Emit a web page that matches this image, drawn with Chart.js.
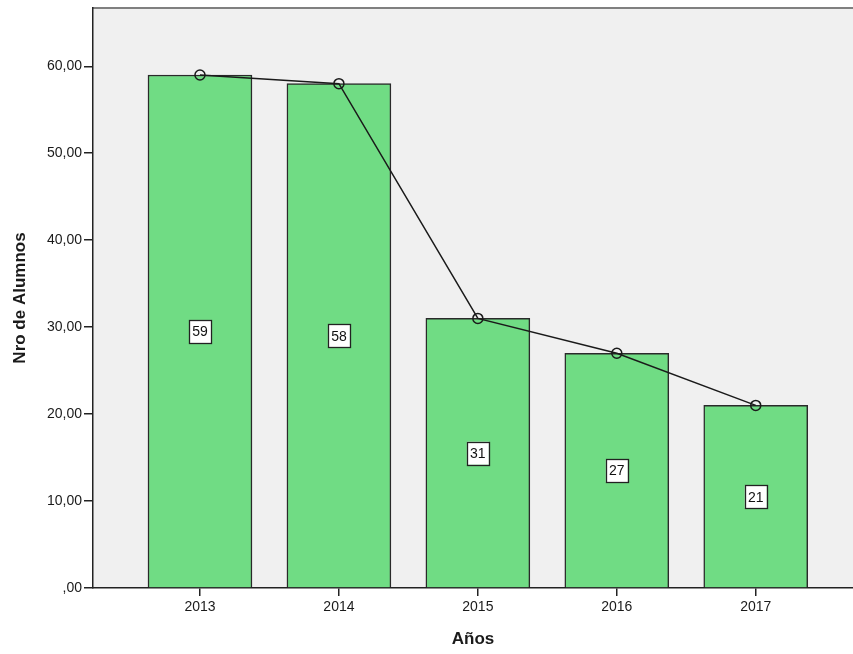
<!DOCTYPE html>
<html>
<head>
<meta charset="utf-8">
<script src="https://cdn.jsdelivr.net/npm/chart.js@4"></script>
<style>
  html, body { margin: 0; padding: 0; background: #fff; }
  #wrap { width: 853px; height: 654px; }
</style>
</head>
<body>
<div id="wrap"><canvas id="alumnosChart" width="853" height="654"></canvas></div>
<script>
// Data
const years = [2013, 2014, 2015, 2016, 2017];
const alumnos = [59, 58, 31, 27, 21];
const yTicks = [0, 10, 20, 30, 40, 50, 60];

// "60,00" style labels, zero shown as ",00"
function formatTick(v) {
  if (v === 0) return ",00";
  return v.toFixed(2).replace(".", ",");
}

const points = years.map((y, i) => ({ x: y, y: alumnos[i] }));

// Background + top border of the plot area
const plotFrame = {
  id: "plotFrame",
  beforeDraw(chart) {
    const { ctx, chartArea: a } = chart;
    ctx.save();
    ctx.fillStyle = "#f0f0f0";
    ctx.fillRect(a.left, a.top, a.right - a.left, a.bottom - a.top);
    ctx.strokeStyle = "#808080";
    ctx.lineWidth = 2;
    ctx.beginPath();
    ctx.moveTo(a.left, a.top);
    ctx.lineTo(a.right, a.top);
    ctx.stroke();
    ctx.restore();
  }
};

// Boxed value labels in the middle of each bar
const boxLabels = {
  id: "boxLabels",
  afterDatasetsDraw(chart) {
    const { ctx, scales } = chart;
    ctx.save();
    ctx.font = "14px 'Liberation Sans', Arial, sans-serif";
    ctx.textAlign = "center";
    ctx.textBaseline = "middle";
    years.forEach((yr, i) => {
      const cx = scales.x.getPixelForValue(yr);
      const cy = scales.y.getPixelForValue(alumnos[i] / 2);
      const w = 22, h = 23;
      ctx.fillStyle = "#fff";
      ctx.fillRect(cx - w / 2, cy - h / 2, w, h);
      ctx.strokeStyle = "#222";
      ctx.lineWidth = 1.3;
      ctx.strokeRect(Math.round(cx - w / 2) + 0.5, Math.round(cy - h / 2) + 0.5, w, h);
      ctx.fillStyle = "#111";
      ctx.fillText(String(alumnos[i]), cx, cy + 1);
    });
    ctx.restore();
  }
};

const tickFont = { family: "'Liberation Sans', Arial, sans-serif", size: 14 };
const titleFont = { family: "'Liberation Sans', Arial, sans-serif", size: 17, weight: "bold" };

new Chart(document.getElementById("alumnosChart"), {
  data: {
    datasets: [
      {
        type: "line",
        data: points,
        borderColor: "#1a1a1a",
        borderWidth: 1.5,
        pointRadius: 5,
        pointBorderWidth: 1.5,
        pointBackgroundColor: "rgba(0,0,0,0)",
        pointBorderColor: "#1a1a1a",
        order: 0
      },
      {
        type: "bar",
        data: points,
        backgroundColor: "#70dc84",
        borderColor: "#2a2a2a",
        borderWidth: 1.5,
        barThickness: 104,
        order: 1
      }
    ]
  },
  options: {
    responsive: false,
    animation: false,
    layout: { autoPadding: false, padding: { top: 8, right: 0, left: 0, bottom: 0 } },
    plugins: { legend: { display: false }, tooltip: { enabled: false } },
    scales: {
      x: {
        type: "linear",
        offset: false,
        min: 2012.23,
        max: 2017.7,
        afterBuildTicks(scale) { scale.ticks = years.map(v => ({ value: v })); },
        afterFit(scale) { scale.height = 66; },
        ticks: { color: "#1a1a1a", font: tickFont, padding: 3, callback: v => String(v) },
        grid: { display: true, offset: false, drawOnChartArea: false, tickLength: 8, color: "#222", lineWidth: 1.5 },
        border: { display: true, color: "#222", width: 1.5 },
        title: { display: true, text: "Años", color: "#1a1a1a", font: titleFont, padding: { top: 0, bottom: 4 } }
      },
      y: {
        min: 0,
        max: 66.7,
        afterBuildTicks(scale) { scale.ticks = yTicks.map(v => ({ value: v })); },
        afterFit(scale) {
          scale.width = 93;
          scale.paddingTop = 0;
          scale.paddingBottom = 0;
        },
        ticks: { color: "#1a1a1a", font: tickFont, padding: 2, callback: v => formatTick(v) },
        grid: { display: true, drawOnChartArea: false, tickLength: 9, color: "#222", lineWidth: 1.5 },
        border: { display: true, color: "#222", width: 1.5 },
        title: { display: true, text: "Nro de Alumnos", color: "#1a1a1a", font: titleFont, padding: { top: 10, bottom: 0 } }
      }
    }
  },
  plugins: [plotFrame, boxLabels]
});
</script>
</body>
</html>
